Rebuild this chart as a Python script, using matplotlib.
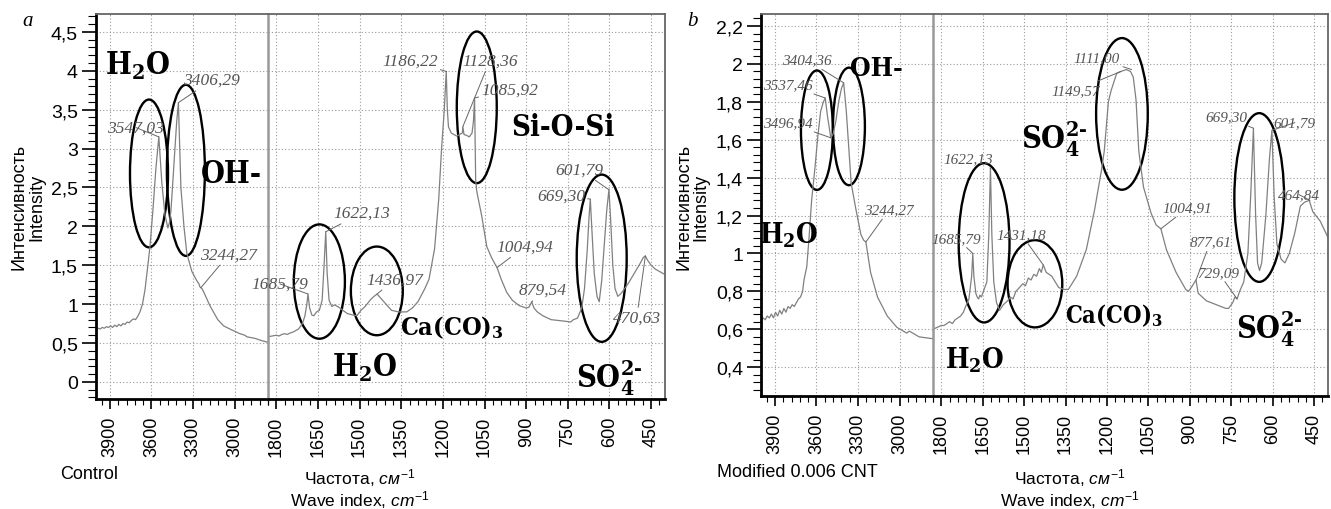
import matplotlib.pyplot as plt
from matplotlib.patches import Ellipse
from matplotlib.ticker import MultipleLocator, FuncFormatter

plt.rcParams['font.family'] = ['Liberation Sans', 'DejaVu Sans']
plt.rcParams['mathtext.fontset'] = 'custom'
plt.rcParams['mathtext.rm'] = 'Liberation Sans'
plt.rcParams['mathtext.it'] = 'Liberation Sans:italic'
plt.rcParams['mathtext.bf'] = 'DejaVu Serif:weight=bold:stretch=condensed'

# ---------------- panel a : Control ----------------
wn_a_hi = [
    4000, 3985, 3970, 3955, 3940, 3925, 3910, 3895, 3880, 3865,
    3850, 3835, 3820, 3805, 3790, 3775, 3760, 3745, 3730, 3715,
    3700, 3683, 3665, 3647, 3626, 3611, 3590, 3568, 3547, 3536,
    3525, 3503, 3482, 3470, 3460, 3445, 3431, 3418, 3406, 3397,
    3388, 3366, 3345, 3309, 3273, 3258, 3250, 3244, 3236, 3222,
    3179, 3122, 3080, 3035, 2963, 2927, 2913, 2855, 2805, 2762]
int_a_hi = [
    0.68, 0.69, 0.68, 0.70, 0.69, 0.71, 0.70, 0.72, 0.70, 0.73,
    0.71, 0.74, 0.72, 0.75, 0.74, 0.77, 0.76, 0.79, 0.81, 0.80,
    0.84, 0.90, 1.00, 1.18, 1.50, 1.74, 2.20, 2.75, 3.15, 2.85,
    2.55, 2.15, 1.98, 2.05, 2.20, 2.60, 3.00, 3.35, 3.59, 3.05,
    2.50, 2.00, 1.65, 1.42, 1.30, 1.26, 1.22, 1.21, 1.20, 1.15,
    0.98, 0.80, 0.72, 0.68, 0.62, 0.60, 0.58, 0.56, 0.53, 0.51]

wn_a_lo = [
    1830, 1815, 1800, 1790, 1780, 1770, 1760, 1750, 1740, 1730,
    1720, 1712, 1705, 1697, 1690, 1686, 1680, 1672, 1665, 1655,
    1645, 1635, 1628, 1622, 1617, 1610, 1600, 1590, 1575, 1560,
    1545, 1525, 1510, 1495, 1480, 1460, 1448, 1437, 1420, 1400,
    1385, 1360, 1330, 1310, 1290, 1265, 1250, 1230, 1215, 1205,
    1195, 1188, 1184, 1180, 1170, 1160, 1150, 1140, 1130, 1128,
    1124, 1115, 1105, 1095, 1090, 1086, 1082, 1078, 1060, 1042,
    1025, 1013, 1005, 990, 970, 950, 925, 900, 890, 880,
    872, 860, 840, 810, 785, 760, 740, 730, 715, 700,
    690, 680, 674, 669, 664, 655, 645, 637, 628, 618,
    610, 602, 596, 588, 580, 570, 560, 545, 530, 510,
    490, 478, 471, 462, 450, 435, 420, 400]
int_a_lo = [
    0.58, 0.59, 0.60, 0.59, 0.61, 0.62, 0.61, 0.63, 0.64, 0.66,
    0.68, 0.72, 0.76, 0.85, 1.00, 1.13, 0.95, 0.86, 0.85, 0.90,
    0.92, 1.05, 1.50, 1.93, 1.40, 1.05, 0.97, 0.99, 0.96, 0.92,
    0.88, 0.86, 0.85, 0.92, 0.97, 1.06, 1.10, 1.13, 1.06, 0.98,
    0.92, 0.90, 0.90, 0.95, 1.03, 1.20, 1.32, 1.71, 2.35, 2.99,
    3.50, 3.99, 3.50, 3.28, 3.20, 3.18, 3.16, 3.18, 3.20, 3.28,
    3.18, 3.17, 3.15, 3.20, 3.35, 3.65, 2.60, 2.45, 2.13, 1.74,
    1.60, 1.52, 1.47, 1.32, 1.15, 1.05, 0.98, 0.95, 0.96, 1.03,
    0.95, 0.90, 0.85, 0.80, 0.79, 0.78, 0.77, 0.80, 0.82, 0.95,
    1.20, 1.70, 2.10, 2.35, 2.00, 1.40, 1.10, 1.03, 1.30, 1.80,
    2.20, 2.47, 2.10, 1.50, 1.20, 1.10, 1.13, 1.20, 1.28, 1.40,
    1.52, 1.60, 1.62, 1.56, 1.50, 1.45, 1.42, 1.38]

peak_lbl_a = ['3547,03', '3406,29', '3244,27', '1685,79', '1622,13', '1436,97', '1186,22',
              '1128,36', '1085,92', '1004,94', '879,54', '669,30', '601,79', '470,63']
peak_wn_a = [3547.03, 3406.29, 3244.27, 1685.79, 1622.13, 1436.97, 1186.22,
             1128.36, 1085.92, 1004.94, 879.54, 669.30, 601.79, 470.63]
peak_int_a = [3.15, 3.59, 1.21, 1.13, 1.93, 1.13, 3.99, 3.28, 3.65, 1.47, 1.03, 2.35, 2.47, 1.62]

# ---------------- panel b : Modified 0.006 CNT ----------------
wn_b_hi = [
    4000, 3985, 3970, 3955, 3940, 3925, 3910, 3895, 3880, 3865,
    3850, 3835, 3820, 3805, 3790, 3775, 3760, 3745, 3730, 3715,
    3700, 3690, 3670, 3655, 3635, 3610, 3590, 3570, 3550, 3537,
    3520, 3505, 3497, 3480, 3460, 3440, 3420, 3404, 3385, 3350,
    3315, 3280, 3260, 3244, 3210, 3160, 3090, 3020, 2950, 2930,
    2860, 2760]
int_b_hi = [
    0.65, 0.66, 0.65, 0.67, 0.66, 0.68, 0.66, 0.69, 0.67, 0.70,
    0.68, 0.71, 0.69, 0.72, 0.71, 0.73, 0.72, 0.74, 0.76, 0.77,
    0.80, 0.86, 0.93, 1.07, 1.28, 1.46, 1.62, 1.75, 1.80, 1.82,
    1.72, 1.65, 1.61, 1.63, 1.70, 1.80, 1.87, 1.90, 1.75, 1.37,
    1.23, 1.10, 1.07, 1.06, 0.90, 0.77, 0.67, 0.61, 0.58, 0.59,
    0.56, 0.55]

wn_b_lo = [
    1830, 1815, 1800, 1790, 1780, 1770, 1760, 1750, 1740, 1730,
    1720, 1712, 1700, 1690, 1686, 1682, 1675, 1670, 1665, 1660,
    1655, 1645, 1635, 1628, 1622, 1617, 1610, 1600, 1589, 1575,
    1560, 1550, 1540, 1530, 1517, 1505, 1495, 1485, 1475, 1465,
    1455, 1445, 1438, 1431, 1420, 1400, 1375, 1355, 1340, 1310,
    1275, 1245, 1220, 1210, 1195, 1185, 1165, 1150, 1130, 1115,
    1105, 1095, 1085, 1068, 1040, 1022, 1005, 985, 950, 915,
    905, 895, 878, 870, 840, 805, 770, 760, 745, 737,
    729, 720, 705, 690, 680, 670, 662, 655, 648, 640,
    625, 612, 603, 595, 585, 570, 556, 540, 520, 500,
    485, 468, 455, 428, 402]
int_b_lo = [
    0.60, 0.61, 0.62, 0.62, 0.63, 0.64, 0.63, 0.65, 0.66, 0.67,
    0.69, 0.72, 0.76, 0.88, 1.00, 0.88, 0.79, 0.77, 0.76, 0.78,
    0.77, 0.81, 0.85, 1.10, 1.45, 1.10, 0.85, 0.74, 0.70, 0.73,
    0.75, 0.77, 0.76, 0.80, 0.82, 0.84, 0.83, 0.87, 0.86, 0.89,
    0.88, 0.92, 0.90, 0.94, 0.90, 0.88, 0.82, 0.81, 0.81, 0.88,
    1.02, 1.23, 1.44, 1.54, 1.80, 1.86, 1.95, 1.96, 1.97, 1.96,
    1.93, 1.81, 1.54, 1.35, 1.21, 1.15, 1.13, 1.02, 0.90, 0.81,
    0.80, 0.82, 0.86, 0.79, 0.75, 0.73, 0.71, 0.71, 0.74, 0.77,
    0.76, 0.80, 0.85, 1.00, 1.30, 1.66, 1.20, 0.95, 0.91, 0.95,
    1.20, 1.50, 1.65, 1.30, 1.05, 0.97, 0.95, 1.00, 1.11, 1.25,
    1.27, 1.28, 1.22, 1.17, 1.09]

peak_lbl_b = ['3404,36', '3537,46', '3496,94', '3244,27', '1685,79', '1622,13', '1431,18',
              '1111,00', '1149,57', '1004,91', '877,61', '729,09', '669,30', '601,79', '464,84']
peak_wn_b = [3404.36, 3537.46, 3496.94, 3244.27, 1685.79, 1622.13, 1431.18,
             1111.00, 1149.57, 1004.91, 877.61, 729.09, 669.30, 601.79, 464.84]
peak_int_b = [1.90, 1.82, 1.61, 1.06, 1.00, 1.45, 0.94, 1.97, 1.96, 1.13, 0.86, 0.76, 1.66, 1.65, 1.28]

# label placement (data coordinates of the text centres)
pos_a = [(3712, 3.27), (3165, 3.88), (3042, 1.64), (1787, 1.26), (1492, 2.17), (1373, 1.32),
         (1319, 4.13), (1031, 4.13), (959, 3.76), (905, 1.74), (840, 1.18), (775, 2.40),
         (707, 2.73), (502, 0.82)]
pos_b = [(3669, 2.02), (3806, 1.89), (3806, 1.69), (3078, 1.23), (1744, 1.08), (1704, 1.50),
         (1510, 1.10), (1236, 2.03), (1315, 1.86), (908, 1.24), (826, 1.06), (797, 0.90),
         (768, 1.72), (520, 1.69), (505, 1.31)]

SO4 = r'$\mathbf{SO_4^{2‐}}$'
chem_a = [('hi', r'$\mathbf{H_2O}$', 3698, 4.08, 22), ('hi', 'OH-', 3021, 2.68, 22),
          ('lo', 'Si-O-Si', 768, 3.28, 21), ('lo', r'$\mathbf{H_2O}$', 1481, 0.19, 22),
          ('lo', r'$\mathbf{Ca(CO)_3}$', 1168, 0.71, 18), ('lo', SO4, 602, 0.06, 22)]
chem_b = [('hi', 'OH-', 3165, 1.98, 19), ('hi', r'$\mathbf{H_2O}$', 3798, 1.10, 20),
          ('lo', r'$\mathbf{H_2O}$', 1679, 0.44, 20), ('lo', SO4, 1391, 1.61, 22),
          ('lo', r'$\mathbf{Ca(CO)_3}$', 1175, 0.68, 17), ('lo', SO4, 612, 0.61, 22)]

ell_a = [('hi', 3618, 2.68, 274, 1.90), ('hi', 3352, 2.72, 274, 2.20),
         ('lo', 1645, 1.29, 184, 1.47), ('lo', 1438, 1.17, 187, 1.14),
         ('lo', 1078, 3.53, 144, 1.95), ('lo', 628, 1.59, 180, 2.15)]
ell_b = [('hi', 3597, 1.65, 230, 0.63), ('hi', 3366, 1.67, 230, 0.62),
         ('lo', 1645, 1.056, 184, 0.84), ('lo', 1461, 0.84, 198, 0.46),
         ('lo', 1146, 1.736, 187, 0.80), ('lo', 649, 1.295, 180, 0.89)]

W, H = 1331, 510
fig = plt.figure(figsize=(W / 100, H / 100), dpi=100)


def px_rect(x0, x1, y0, y1):
    return [x0 / W, 1 - y1 / H, (x1 - x0) / W, (y1 - y0) / H]


comma = FuncFormatter(lambda v, _: f"{v:.1f}".rstrip('0').rstrip('.').replace('.', ','))


def make_panel(x0, xb, x1, y0, y1, ylim, ystep, yminor):
    ax_hi = fig.add_axes(px_rect(x0, xb, y0, y1))
    ax_lo = fig.add_axes(px_rect(xb, x1, y0, y1))
    ax_hi.set_xlim(4000, 2760)
    ax_lo.set_xlim(1830, 400)
    ax_hi.xaxis.set_major_locator(MultipleLocator(300))
    ax_hi.xaxis.set_minor_locator(MultipleLocator(60))
    ax_lo.xaxis.set_major_locator(MultipleLocator(150))
    ax_lo.xaxis.set_minor_locator(MultipleLocator(30))
    for ax in (ax_hi, ax_lo):
        ax.set_ylim(*ylim)
        ax.yaxis.set_major_locator(MultipleLocator(ystep))
        ax.yaxis.set_minor_locator(MultipleLocator(yminor))
        ax.yaxis.set_major_formatter(comma)
        ax.grid(True, which='major', color='#9a9a9a', linestyle=(0, (1, 2)), linewidth=0.8)
        ax.tick_params(axis='x', which='major', direction='out', length=7, width=1.2,
                       labelsize=13, labelrotation=90, pad=5)
        ax.tick_params(axis='x', which='minor', direction='out', length=4, width=0.8)
        ax.tick_params(axis='y', which='major', direction='out', length=10, width=1.2,
                       labelsize=14, pad=3)
        ax.tick_params(axis='y', which='minor', direction='out', length=6, width=0.8)
        ax.spines['bottom'].set(color='black', linewidth=2)
        ax.spines['top'].set(color='#666666', linewidth=1.3)
        ax.set_axisbelow(True)
    ax_hi.spines['left'].set(color='black', linewidth=2)
    ax_hi.spines['right'].set_visible(False)
    ax_lo.spines['left'].set(color='#999999', linewidth=1.8)
    ax_lo.spines['right'].set(color='#666666', linewidth=1.3)
    ax_lo.tick_params(axis='y', which='both', left=False, labelleft=False)
    return {'hi': ax_hi, 'lo': ax_lo}


def fill_panel(axs, curves, labels, wns, ints, pos, pk_size, chems, ells):
    for seg, (x, y) in zip(('hi', 'lo'), curves):
        axs[seg].plot(x, y, color='#808080', linewidth=0.9)
    for lab, w, i, (tx, ty) in zip(labels, wns, ints, pos):
        ax = axs['hi'] if w > 2000 else axs['lo']
        ax.annotate(lab, xy=(w, i), xytext=(tx, ty), ha='center', va='center',
                    fontsize=pk_size, fontstyle='italic', family='Liberation Serif', color='#555555',
                    arrowprops=dict(arrowstyle='-', color='#666666', lw=0.7, shrinkA=0, shrinkB=0))
    for seg, txt, tx, ty, size in chems:
        axs[seg].text(tx, ty, txt, ha='center', va='center', fontsize=size, color='black',
                      family='DejaVu Serif', fontweight='bold', fontstretch='condensed')
    for seg, cx, cy, ew, eh in ells:
        axs[seg].add_patch(Ellipse((cx, cy), ew, eh, fill=False, edgecolor='black', linewidth=1.7))


axs_a = make_panel(96, 268, 665, 15, 400, (-0.22, 4.73), 0.5, 0.1)
fill_panel(axs_a, [(wn_a_hi, int_a_hi), (wn_a_lo, int_a_lo)], peak_lbl_a, peak_wn_a, peak_int_a,
           pos_a, 12.5, chem_a, ell_a)
axs_b = make_panel(761, 933, 1328, 15, 397, (0.248, 2.263), 0.2, 0.04)
fill_panel(axs_b, [(wn_b_hi, int_b_hi), (wn_b_lo, int_b_lo)], peak_lbl_b, peak_wn_b, peak_int_b,
           pos_b, 11, chem_b, ell_b)

# panel letters, axis titles and sample names
for x, letter in ((28, 'a'), (692, 'b')):
    fig.text(x / W, 1 - 21 / H, letter, fontsize=15, fontstyle='italic', family='Liberation Serif',
             ha='center', va='center')
for x in (28, 692):
    fig.text(x / W, 1 - 207 / H, 'Интенсивность\nIntensity', rotation=90, ha='center', va='center',
             fontsize=13, linespacing=1.0)
xlabel = r'Частота, $\mathit{см}^{\mathit{-1}}$' + '\n' + r'Wave index, $\mathit{cm}^{\mathit{-1}}$'
for x in (360, 1070):
    fig.text(x / W, 1 - 489 / H, xlabel, ha='center', va='center', fontsize=12.5, linespacing=1.05)
fig.text(60 / W, 1 - 475 / H, 'Control', ha='left', va='center', fontsize=13)
fig.text(717 / W, 1 - 473 / H, 'Modified 0.006 CNT', ha='left', va='center', fontsize=13)

fig.savefig('out.png', dpi=100)
